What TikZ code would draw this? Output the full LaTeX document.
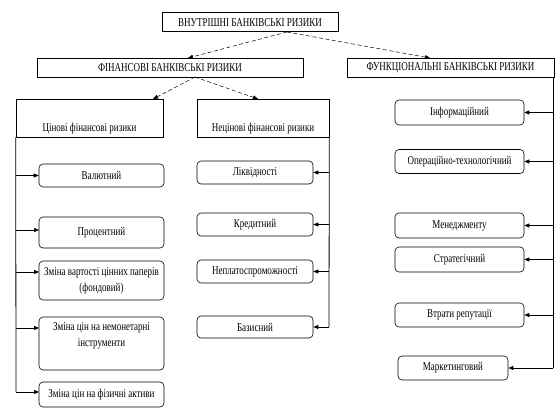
\documentclass[tikz,border=0pt]{standalone}
\usepackage{fontspec}
\setmainfont{Liberation Serif}[FakeStretch=0.75]
\usetikzlibrary{arrows.meta}
\begin{document}
\begin{tikzpicture}[x=1pt,y=-1pt,
  every node/.style={inner sep=0pt, font=\fontsize{12}{16}\selectfont, align=center},
  sq/.style={draw, line width=0.6pt, rectangle},
  rbox/.style={draw, line width=0.6pt, rounded corners=4pt},
  arr/.style={-{Triangle[length=5pt,width=4pt]}, line width=0.7pt},
  darr/.style={arr, dash pattern=on 4pt off 2.5pt, line width=0.5pt},
  vline/.style={line width=0.8pt}]
\useasboundingbox (0,0) rectangle (556,419);
\fill[white] (0,0) rectangle (556,419);

% top level
\node[sq, line width=1pt, minimum width=176pt, minimum height=19pt] (top) at (250,22.5) {ВНУТРІШНІ БАНКІВСЬКІ РИЗИКИ};
\node[sq, minimum width=266pt, minimum height=19pt] (fin) at (170,67.5) {ФІНАНСОВІ БАНКІВСЬКІ РИЗИКИ};
\node[sq, minimum width=207pt, minimum height=19pt] (func) at (450.5,67.5) {ФУНКЦІОНАЛЬНІ БАНКІВСЬКІ РИЗИКИ};

\coordinate (topS) at (287,32);
\coordinate (finN) at (188,58);
\coordinate (funcN) at (430,58);
\draw[darr] (topS) -- (finN);
\draw[darr] (topS) -- (funcN);

% second level
\node[sq, minimum width=147pt, minimum height=38pt] (price) at (89.5,118) {};
\node (priceT) at (89.5,128.5) {Цінові фінансові ризики};
\node[sq, minimum width=132pt, minimum height=38pt] (nprice) at (263,118) {};
\node (npriceT) at (263,128.5) {Нецінові фінансові ризики};

\coordinate (finS) at (195,77);
\coordinate (priceN) at (153,99);
\coordinate (npriceN) at (258,99);
\draw[darr] (finS) -- (priceN);
\draw[darr] (finS) -- (npriceN);

% left column
\node[rbox, minimum width=125pt, minimum height=23pt] (val) at (101.5,175.5) {Валютний};
\node[rbox, minimum width=125pt, minimum height=31pt] (proc) at (101.5,232.5) {Процентний};
\node[rbox, minimum width=125pt, minimum height=39pt] (fond) at (101.5,280.5) {Зміна вартості цінних паперів\\(фондовий)};
\node[rbox, minimum width=125pt, minimum height=53pt] (nemon) at (101.5,343.5) {};
\node (nemonT) at (101.5,336) {Зміна цін на немонетарні\\інструменти};
\node[rbox, minimum width=125pt, minimum height=25pt] (fiz) at (101.5,394.5) {Зміна цін на фізичні активи};

\coordinate (lTop) at (price.south west);
\coordinate (lBot) at (16,392);
\draw[vline] (lTop) -- (lBot);
\coordinate (lV) at (16,175.5);
\coordinate (lP) at (16,230);
\coordinate (lF) at (16,272);
\coordinate (lN) at (16,328);
\coordinate (lZ) at (16,392);
\coordinate (eF) at (39,272);
\coordinate (eN) at (39,328);
\coordinate (eZ) at (39,392);
\coordinate (eP) at (39,230);
\draw[arr] (lV) -- (val.west);
\draw[arr] (lP) -- (eP);
\draw[arr] (lF) -- (eF);
\draw[arr] (lN) -- (eN);
\draw[arr] (lZ) -- (eZ);

% middle column
\node[rbox, minimum width=116pt, minimum height=23pt] (liq) at (255,172.5) {Ліквідності};
\node[rbox, minimum width=116pt, minimum height=23pt] (cred) at (255,224.5) {Кредитний};
\node[rbox, minimum width=116pt, minimum height=23pt] (nepl) at (255,271.5) {Неплатоспроможності};
\node[rbox, minimum width=116pt, minimum height=22pt] (baz) at (255,327) {Базисний};

\coordinate (mTop) at (nprice.south east);
\coordinate (mBot) at (329,327);
\draw[vline] (mTop) -- (mBot);
\coordinate (mL) at (329,172.5);
\coordinate (mC) at (329,224.5);
\coordinate (mN) at (329,271.5);
\draw[arr] (mL) -- (liq.east);
\draw[arr] (mC) -- (cred.east);
\draw[arr] (mN) -- (nepl.east);
\draw[arr] (mBot) -- (baz.east);

% right column
\node[rbox, minimum width=129pt, minimum height=25pt] (inf) at (459.5,112.5) {Інформаційний};
\node[rbox, minimum width=129pt, minimum height=24pt] (oper) at (459.5,161.5) {Операційно-технологічний};
\node[rbox, minimum width=129pt, minimum height=25pt] (men) at (459.5,225.5) {Менеджменту};
\node[rbox, minimum width=129pt, minimum height=25pt] (strat) at (459.5,259.5) {Стратегічний};
\node[rbox, minimum width=129pt, minimum height=24pt] (vtr) at (459.5,315) {Втрати репутації};
\node[rbox, minimum width=110pt, minimum height=24pt] (mark) at (453,368) {Маркетинговий};

\coordinate (rTop) at (553,77);
\coordinate (rBot) at (553,368);
\draw[vline] (rTop) -- (rBot);
\coordinate (rI) at (553,112.5);
\coordinate (rO) at (553,161.5);
\coordinate (rM) at (553,225.5);
\coordinate (rS) at (553,259.5);
\coordinate (rV) at (553,315);
\draw[arr] (rI) -- (inf.east);
\draw[arr] (rO) -- (oper.east);
\draw[arr] (rM) -- (men.east);
\draw[arr] (rS) -- (strat.east);
\draw[arr] (rV) -- (vtr.east);
\draw[arr] (rBot) -- (mark.east);
\end{tikzpicture}
\end{document}
